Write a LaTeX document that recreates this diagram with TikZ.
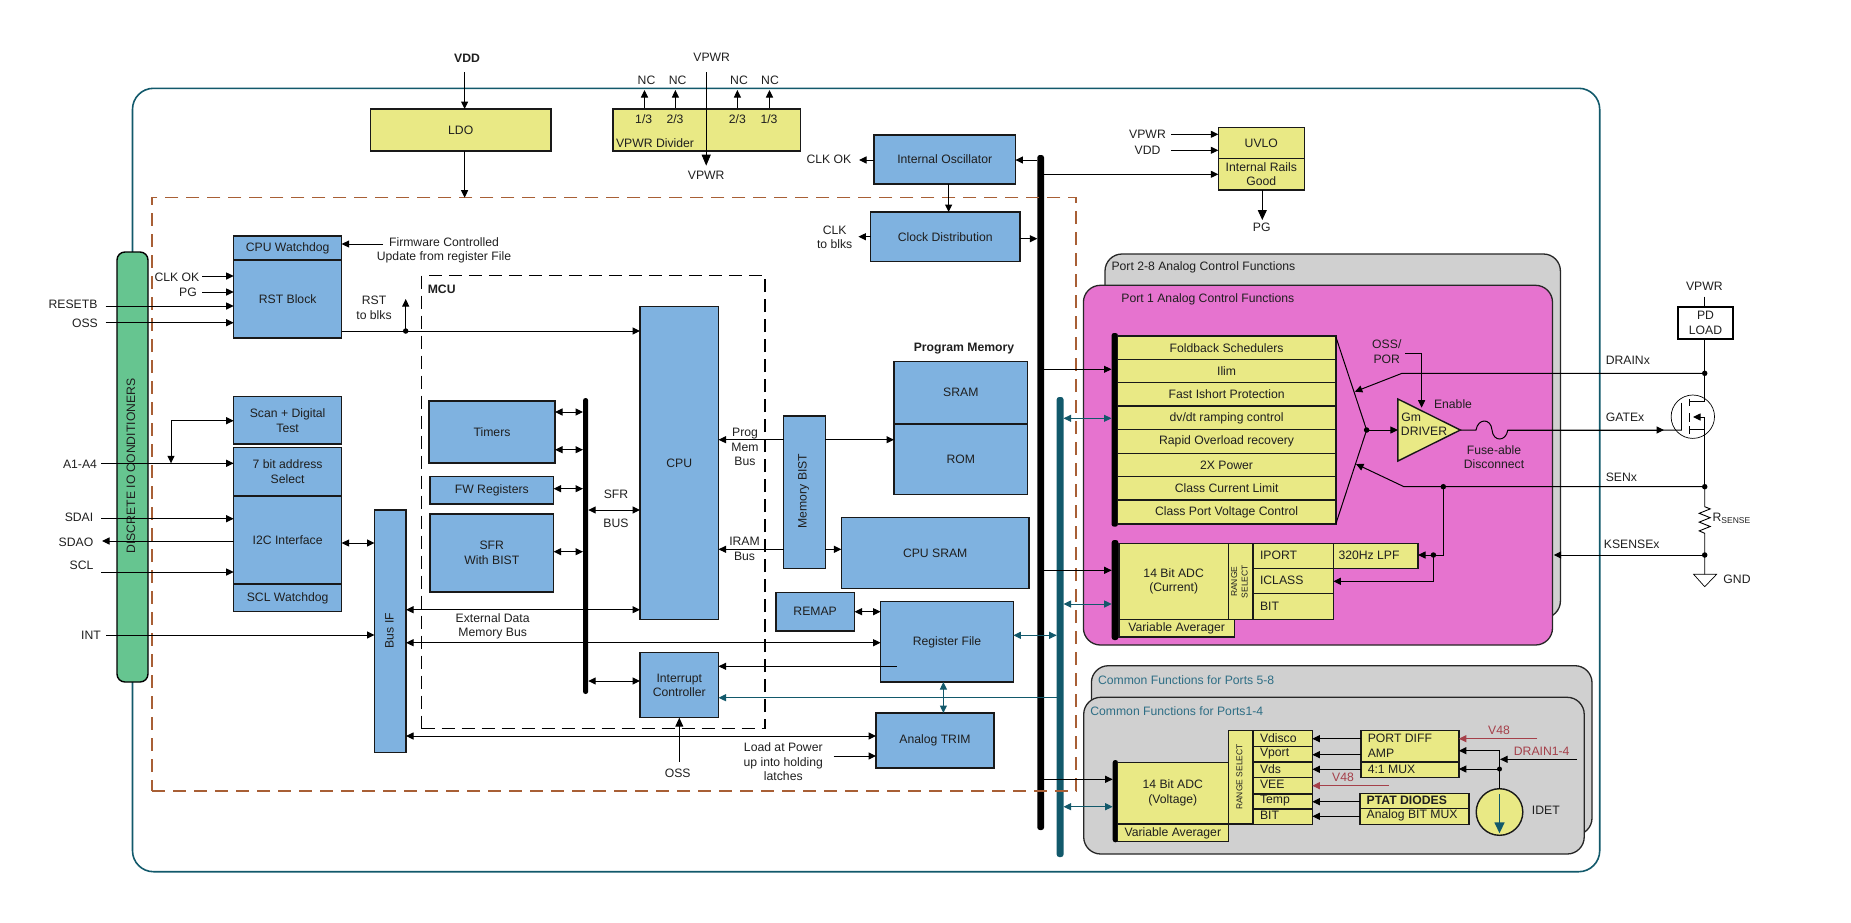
\documentclass[tikz,border=0pt]{standalone}
\usepackage{fontspec}
\setmainfont{Liberation Sans}
\usetikzlibrary{arrows.meta,decorations.pathmorphing}
\definecolor{cyel}{HTML}{E9E985}
\definecolor{cblu}{HTML}{7FB2E0}
\definecolor{cgrn}{HTML}{66C590}
\definecolor{cpnk}{HTML}{E673CF}
\definecolor{cgry}{HTML}{D0D0D0}
\definecolor{cteal}{HTML}{12596B}
\definecolor{ctxt}{HTML}{2E6E85}
\definecolor{cbrn}{HTML}{A85F35}
\definecolor{cred}{HTML}{A5404A}
\tikzset{
  x=1pt,y=-1pt,
  every node/.style={font=\fontsize{12.2}{14.7}\selectfont,inner sep=0pt,outer sep=0pt,align=center,text=black!88},
  box/.style={draw=black!90,line width=1.4pt},
  blu/.style={box,fill=cblu},
  yel/.style={box,fill=cyel},
  panel/.style={draw=black!85,line width=1.3pt,rounded corners=17pt},
  barblk/.style={fill=black,rounded corners=2.5pt},
  barteal/.style={fill=cteal,rounded corners=2.5pt},
  lnk/.style={draw=black,line width=1pt},
  arr/.style={lnk,-{Triangle[length=7.5pt,width=7pt]}},
  darr/.style={lnk,{Triangle[length=7.5pt,width=7pt]}-{Triangle[length=7.5pt,width=7pt]}},
  tarr/.style={draw=cteal,line width=1pt,-{Triangle[length=7.5pt,width=7pt]}},
  tdarr/.style={draw=cteal,line width=1pt,{Triangle[length=7.5pt,width=7pt]}-{Triangle[length=7.5pt,width=7pt]}},
  rarr/.style={draw=cred,line width=1pt,-{Triangle[length=7.5pt,width=7pt]}},
  dot/.style={circle,fill=black,minimum size=5.5pt},
  small/.style={font=\fontsize{8.5}{10.4}\selectfont},
  tag/.style={text=ctxt},
  redtag/.style={text=cred},
  bold/.style={font=\fontsize{12.2}{14.7}\bfseries\selectfont},
}
% name, style, x1, y1, x2, y2, text
\newcommand{\mybox}[7]{\node[#2,minimum width={(#5-#3)*1pt},minimum height={(#6-#4)*1pt}] (#1) at ({(#3+#5)/2},{(#4+#6)/2}) {#7};}
\newcommand{\lab}[4][]{\node[#1] (#2) at (#3) {#4};}
\begin{document}
\begin{tikzpicture}
\useasboundingbox (0,0) rectangle (1851,922);
% outer frame
\mybox{outer}{draw=cteal,line width=1.6pt,rounded corners=21pt}{132.5}{88.3}{1599.7}{871.7}{}
% analog panels
\mybox{p28}{panel,fill=cgry}{1105}{254}{1560.4}{618}{}
\mybox{p1}{panel,fill=cpnk}{1083.4}{285.3}{1552.5}{645}{}
\mybox{c58}{panel,fill=cgry}{1091.4}{665.7}{1592}{835}{}
\mybox{c14}{panel,fill=cgry}{1083.7}{697.3}{1584.2}{854}{}
\lab[anchor=west]{tp28}{1111.5,267.7}{Port 2-8 Analog Control Functions}
\lab[anchor=west]{tp1}{1121.4,299}{Port 1 Analog Control Functions}
\lab[anchor=west,tag]{tc58}{1098,679.7}{Common Functions for Ports 5-8}
\lab[anchor=west,tag]{tc14}{1090.3,711}{Common Functions for Ports1-4}
% green bar
\mybox{io}{draw=black,line width=1.4pt,fill=cgrn,rounded corners=8pt}{117}{252}{148}{682}{}
\lab[rotate=90]{tio}{131,466}{DISCRETE IO CONDITIONERS}
% buses
\mybox{busa}{barblk}{1037.3}{155}{1044}{830}{}
\mybox{bust}{barteal}{1056.7}{397}{1063.5}{857}{}
\mybox{sfrbus}{barblk}{583}{398}{588.2}{694}{}
\mybox{listbar}{barblk}{1111.5}{333}{1118}{526.7}{}
\mybox{adcibar}{barblk}{1111.7}{540}{1118.4}{640}{}
\mybox{adcvbar}{barblk}{1112.7}{760}{1118}{842.3}{}
% dashed regions
\mybox{digi}{draw=cbrn,line width=1.3pt,dash pattern=on 13pt off 8pt}{152}{197.7}{1076}{791}{}
\mybox{mcu}{draw=black,line width=1.3pt,dash pattern=on 13pt off 7pt}{421.5}{275.7}{765}{728.7}{}
\lab[bold]{tmcu}{441.7,289}{MCU}
% top
\mybox{ldo}{yel}{370.5}{109}{551}{151}{LDO}
\lab[bold]{tvdd}{467,58}{VDD}
\mybox{div}{yel}{613}{109}{800.7}{151}{}
\lab{tdiv}{655,142.7}{VPWR Divider}
\lab{d1}{643.7,119}{1/3}
\lab{d2}{675,119}{2/3}
\lab{d3}{737.4,119}{2/3}
\lab{d4}{769,119}{1/3}
\lab{nc1}{646.5,80.3}{NC}
\lab{nc2}{677.7,80.3}{NC}
\lab{nc3}{739,80.3}{NC}
\lab{nc4}{770,80.3}{NC}
\lab{tvp1}{711.7,57.7}{VPWR}
\lab{tvp2}{706.2,175.7}{VPWR}
\mybox{osc}{blu}{874}{135}{1015.4}{184}{Internal Oscillator}
\mybox{clk}{blu}{870.7}{212}{1019.8}{261.3}{Clock Distribution}
\lab{tclkok}{829,159.7}{CLK OK}
\lab{tclk}{834.7,237.3}{CLK\\to blks}
\mybox{uvlo}{yel}{1218.3}{127.3}{1304.3}{158.3}{UVLO}
\mybox{rails}{yel}{1218.3}{158.3}{1304.3}{190}{Internal Rails\\Good}
\lab{tuv1}{1147.5,134}{VPWR}
\lab{tuv2}{1147.5,150}{VDD}
\lab{tpg2}{1261.7,227.3}{PG}
% left column
\mybox{wd}{blu}{233.7}{236}{341.6}{260}{CPU Watchdog}
\mybox{rst}{blu}{233.7}{260}{341.6}{338}{RST Block}
\lab{tfw}{444,250.3}{Firmware Controlled\\Update from register File}
\lab{tclkok2}{177,277}{CLK OK}
\lab{tpg}{188,292}{PG}
\lab{trsb}{73,304}{RESETB}
\lab{toss}{85,323}{OSS}
\lab{trstb}{374,307.8}{RST\\to blks}
\mybox{scan}{blu}{233.7}{396.7}{341.6}{444}{Scan + Digital\\Test}
\mybox{addr}{blu}{233.7}{447.7}{341.6}{496}{7 bit address\\Select}
\mybox{i2c}{blu}{233.7}{496}{341.6}{584}{I2C Interface}
\mybox{sclw}{blu}{233.7}{584}{341.6}{611.7}{SCL Watchdog}
\lab{ta}{80,464}{A1-A4}
\lab{tsdai}{79,517}{SDAI}
\lab{tsdao}{76,542}{SDAO}
\lab{tscl}{81.5,565.7}{SCL}
\lab{tint}{91,635.7}{INT}
\mybox{busif}{blu}{374.5}{510}{406}{752.7}{}
\lab[rotate=90]{tbusif}{389.5,630.7}{Bus IF}
% MCU
\mybox{timers}{blu}{429}{401}{555}{463}{Timers}
\mybox{fw}{blu}{430}{476.7}{553.6}{504}{FW Registers}
\mybox{sfr}{blu}{430}{514}{553.6}{592}{SFR\\With BIST}
\mybox{cpu}{blu}{640}{306.7}{718.5}{619.7}{CPU}
\mybox{irq}{blu}{640}{652.7}{718.5}{717.7}{Interrupt\\Controller}
\lab{tsfr1}{616,494.7}{SFR}
\lab{tsfr2}{616,523}{BUS}
\lab{text}{492.7,626.3}{External Data\\Memory Bus}
\lab{tprog}{745,447}{Prog\\Mem\\Bus}
\lab{tiram}{744.5,548.5}{IRAM\\Bus}
\lab{toss2}{677.7,773}{OSS}
\lab{tload}{783.3,761.7}{Load at Power\\up into holding\\latches}
% memory
\lab[bold]{tpm}{964,349}{Program Memory}
\mybox{sram}{blu}{894}{361.3}{1027.7}{424}{SRAM}
\mybox{rom}{blu}{894}{424}{1027.7}{494.3}{ROM}
\mybox{bist}{blu}{783.7}{416}{825.2}{568.7}{}
\lab[rotate=90]{tbist}{803.5,491}{Memory BIST}
\mybox{csram}{blu}{841.4}{517.7}{1029}{588.3}{CPU SRAM}
\mybox{remap}{blu}{775.8}{592.3}{854.5}{631}{REMAP}
\mybox{reg}{blu}{880.6}{601.7}{1013.4}{682}{Register File}
\mybox{trim}{blu}{876}{713}{994}{768}{Analog TRIM}
% port list
\mybox{r1}{yel}{1117.4}{336}{1335.8}{359.3}{Foldback Schedulers}
\mybox{r2}{yel}{1117.4}{359.3}{1335.8}{382.7}{Ilim}
\mybox{r3}{yel}{1117.4}{382.7}{1335.8}{406}{Fast Ishort Protection}
\mybox{r4}{yel}{1117.4}{406}{1335.8}{429.7}{dv/dt ramping control}
\mybox{r5}{yel}{1117.4}{429.7}{1335.8}{453.3}{Rapid Overload recovery}
\mybox{r6}{yel}{1117.4}{453.3}{1335.8}{476.7}{2X Power}
\mybox{r7}{yel}{1117.4}{476.7}{1335.8}{500}{Class Current Limit}
\mybox{r8}{yel}{1117.4}{500}{1335.8}{524}{Class Port Voltage Control}
% current ADC
\mybox{adci}{yel}{1119}{543.3}{1228.3}{619.3}{14 Bit ADC\\(Current)}
\mybox{vai}{yel}{1119}{619.3}{1234.3}{637}{Variable Averager}
\mybox{rsi}{yel}{1228.3}{543.3}{1252.7}{619.3}{}
\lab[rotate=90,small]{trsi}{1239.5,581.7}{RANGE\\SELECT}
\mybox{iport}{yel}{1253.3}{543.3}{1333.3}{568.3}{}
\mybox{iclass}{yel}{1253.3}{568.3}{1333.3}{593.3}{}
\mybox{ibit}{yel}{1253.3}{593.3}{1333.3}{619.3}{}
\mybox{lpf}{yel}{1333.3}{543.3}{1418}{568.3}{}
\lab[anchor=west]{tiport}{1260,555.3}{IPORT}
\lab[anchor=west]{ticlass}{1260,580.7}{ICLASS}
\lab[anchor=west]{tibit}{1260,606}{BIT}
\lab[anchor=west]{tlpf}{1338.5,555.3}{320Hz LPF}
% driver
\coordinate (gm1) at (1397.9,399);
\coordinate (gm2) at (1397.9,461);
\coordinate (gm3) at (1460.3,430);
\coordinate (tr1) at (1335.8,336.7);
\coordinate (tr3) at (1335.8,524);
\node[dot] (tr2) at (1366.6,430) {};
\draw[box,fill=cyel,line join=miter] (gm1) -- (gm3) -- (gm2) -- cycle;
\lab[anchor=west]{tgm}{1401.4,417}{Gm}
\lab{tdrv}{1424,431.7}{DRIVER}
\lab{tosp}{1386.8,351.3}{OSS/\\POR}
\lab{ten}{1453,404}{Enable}
\lab{tfuse}{1494,457}{Fuse-able\\Disconnect}
\lab[anchor=west]{tdrain}{1605.8,360.7}{DRAINx}
\lab[anchor=west]{tgate}{1605.8,417}{GATEx}
\lab[anchor=west]{tsen}{1605.8,477.7}{SENx}
\lab[anchor=west]{tks}{1603.9,544.7}{KSENSEx}
% voltage ADC
\mybox{adcv}{yel}{1117.3}{762.3}{1228.3}{824}{14 Bit ADC\\(Voltage)}
\mybox{vav}{yel}{1117.3}{824}{1228.3}{841.7}{Variable Averager}
\mybox{rsv}{yel}{1228.3}{730.7}{1253}{824}{}
\lab[rotate=90,small]{trsv}{1239.4,777}{RANGE SELECT}
\mybox{v1}{yel}{1253}{730.7}{1312.3}{746.7}{}
\mybox{v2}{yel}{1253}{746.7}{1312.3}{762}{}
\mybox{v3}{yel}{1253}{762}{1312.3}{777.7}{}
\mybox{v4}{yel}{1253}{777.7}{1312.3}{794}{}
\mybox{v5}{yel}{1253}{794}{1312.3}{809}{}
\mybox{v6}{yel}{1253}{809}{1312.3}{824.3}{}
\lab[anchor=west]{tv1}{1260,738}{Vdisco}
\lab[anchor=west]{tv2}{1260,753.7}{Vport}
\lab[anchor=west]{tv3}{1260,769.3}{Vds}
\lab[anchor=west]{tv4}{1260,784.7}{VEE}
\lab[anchor=west]{tv5}{1260,800.3}{Temp}
\lab[anchor=west]{tv6}{1260,815.7}{BIT}
\mybox{amp}{yel}{1361}{730.7}{1458.8}{762}{}
\mybox{mux}{yel}{1361}{762}{1458.8}{777.3}{}
\lab[anchor=west]{tamp1}{1367.8,738.3}{PORT DIFF}
\lab[anchor=west]{tamp2}{1367.8,753}{AMP}
\lab[anchor=west]{tmux}{1367.8,769.3}{4:1 MUX}
\mybox{ptat}{yel}{1360}{793.3}{1468.8}{808.7}{}
\mybox{bmux}{yel}{1360}{808.7}{1468.8}{824.7}{}
\lab[anchor=west,bold]{tptat}{1366.7,800.3}{PTAT DIODES}
\lab[anchor=west]{tbmux}{1366.7,815.7}{Analog BIT MUX}
\node[box,circle,fill=cyel,minimum size=46.6pt] (idet) at (1499.5,812) {};
\lab{tidet}{1545.8,810.3}{IDET}
\lab[redtag]{tv48a}{1499,730.3}{V48}
\lab[redtag]{tv48b}{1343,777}{V48}
\lab[redtag]{tdr14}{1541.7,751.7}{DRAIN1-4}
% external FET
\mybox{pd}{draw=black,line width=1.7pt}{1677.8}{306.7}{1733.2}{338.7}{PD\\LOAD}
\lab{tvp3}{1704.3,286.7}{VPWR}
\lab[anchor=west]{trs}{1712.6,518.3}{R\raisebox{-1.6pt}{\fontsize{8.5}{10}\selectfont SENSE}}
\lab{tgnd}{1737,579}{GND}
\node[circle,draw=black,line width=.7pt,minimum size=43.4pt] (fet) at (1692.8,416.7) {};
% --- connectors ---
\coordinate (vdds) at (464.6,72);
\draw[arr] (vdds) -- (vdds |- ldo.north);
\coordinate (ldob) at (464.6,151);
\draw[arr] (ldob) -- (ldob |- digi.north);
\coordinate (vps) at (706.2,72);
\coordinate (vpe) at (706.2,165.7);
\draw[arr,-{Triangle[length=11pt,width=9pt]}] (vps) -- (vpe);
\foreach \x/\n in {644.5/a,675.4/b,737.4/c,769.5/d}{
  \coordinate (nc\n s) at (\x,107.7);
  \coordinate (nc\n e) at (\x,90);
  \draw[arr] (nc\n s) -- (nc\n e);
}
\coordinate (cke) at (859,160);
\draw[arr] (osc.west |- cke) -- (cke);
\draw[arr] (busa.west |- cke) -- (osc.east |- cke);
\coordinate (oc) at (948.6,184);
\draw[arr] (oc) -- (oc |- clk.north);
\coordinate (cl) at (858.4,236.7);
\draw[arr] (clk.west |- cl) -- (cl);
\coordinate (crr) at (1020,238.7);
\draw[arr] (clk.east |- crr) -- (busa.west |- crr);
\coordinate (uv1) at (1171,134.3);
\coordinate (uv2) at (1171,150.3);
\coordinate (uv3) at (1044,174.3);
\draw[arr] (uv1) -- (uvlo.west |- uv1);
\draw[arr] (uv2) -- (uvlo.west |- uv2);
\draw[arr] (uv3) -- (rails.west |- uv3);
\coordinate (pge) at (1262.3,220);
\draw[arr,-{Triangle[length=10pt,width=9pt]}] (pge |- rails.south) -- (pge);
% left side
\coordinate (fws) at (383,244);
\draw[arr] (fws) -- (wd.east |- fws);
\coordinate (c1) at (202,276);
\coordinate (c2) at (202,292);
\coordinate (c3) at (105.6,306);
\coordinate (c4) at (105.6,322.7);
\foreach \c in {c1,c2,c3,c4}{\draw[arr] (\c) -- (rst.west |- \c);}
\coordinate (rl) at (405.7,331);
\node[dot] (rd) at (rl) {};
\coordinate (rup) at (405.7,299);
\draw[arr] (rd.center) -- (rup);
\draw[arr] (rst.east |- rl) -- (cpu.west |- rl);
\coordinate (a1) at (101,463.3);
\draw[arr] (a1) -- (addr.west |- a1);
\coordinate (a2) at (171,420.7);
\draw[arr] (a2) -- (scan.west |- a2);
\coordinate (a3) at (171,463.3);
\draw[arr] (a2) -- (a3);
\coordinate (s1) at (101,518.7);
\coordinate (s2) at (102,541);
\coordinate (s3) at (101,572);
\draw[arr] (s1) -- (i2c.west |- s1);
\draw[arr] (i2c.west |- s2) -- (s2);
\draw[arr] (s3) -- (i2c.west |- s3);
\coordinate (ii) at (106,635);
\draw[arr] (ii) -- (busif.west |- ii);
\coordinate (i2) at (360,543);
\draw[darr] (i2c.east |- i2) -- (busif.west |- i2);
% MCU
\coordinate (t1) at (560,412);
\coordinate (t2) at (560,449.7);
\draw[darr] (timers.east |- t1) -- (sfrbus.west |- t1);
\draw[darr] (timers.east |- t2) -- (sfrbus.west |- t2);
\coordinate (f1) at (560,488.7);
\draw[darr] (fw.east |- f1) -- (sfrbus.west |- f1);
\coordinate (f2) at (560,551.7);
\draw[darr] (sfr.east |- f2) -- (sfrbus.west |- f2);
\coordinate (b1) at (600,510);
\draw[darr] (sfrbus.east |- b1) -- (cpu.west |- b1);
\coordinate (b2) at (600,681);
\draw[darr] (sfrbus.east |- b2) -- (irq.west |- b2);
\coordinate (e1) at (500,609.7);
\draw[darr] (busif.east |- e1) -- (cpu.west |- e1);
\coordinate (e2) at (500,642.7);
\draw[darr] (busif.east |- e2) -- (reg.west |- e2);
\coordinate (e3) at (500,736);
\draw[darr] (busif.east |- e3) -- (trim.west |- e3);
\coordinate (os) at (679.3,761.7);
\draw[arr,-{Triangle[length=9pt,width=8pt]}] (os) -- (os |- irq.south);
\coordinate (lo) at (833.5,756);
\draw[arr] (lo) -- (trim.west |- lo);
% memory
\coordinate (pr) at (750,439.7);
\draw[arr] (bist.west |- pr) -- (cpu.east |- pr);
\draw[arr] (bist.east |- pr) -- (sram.west |- pr);
\coordinate (ir) at (750,549.3);
\draw[arr] (bist.west |- ir) -- (cpu.east |- ir);
\draw[arr] (bist.east |- ir) -- (csram.west |- ir);
\coordinate (rm) at (860,611.7);
\draw[darr] (remap.east |- rm) -- (reg.west |- rm);
\coordinate (ri) at (896.8,666.3);
\draw[arr] (ri) -- (irq.east |- ri);
\coordinate (tr) at (1030,635.3);
\draw[tdarr] (reg.east |- tr) -- (bust.west |- tr);
\coordinate (ti) at (900,697.7);
\draw[tarr] (bust.west |- ti) -- (irq.east |- ti);
\coordinate (tt) at (943.4,700);
\draw[tdarr] (tt |- reg.south) -- (tt |- trim.north);
% port connectors
\coordinate (k1) at (1080,369.3);
\draw[arr] (busa.east |- k1) -- (listbar.west |- k1);
\coordinate (k2) at (1080,418.3);
\draw[tdarr] (bust.east |- k2) -- (listbar.west |- k2);
\coordinate (k3) at (1080,570.3);
\draw[arr] (busa.east |- k3) -- (adcibar.west |- k3);
\coordinate (k4) at (1080,604);
\draw[tdarr] (bust.east |- k4) -- (adcibar.west |- k4);
\coordinate (k5) at (1080,779.3);
\draw[arr] (busa.east |- k5) -- (adcvbar.west |- k5);
\coordinate (k6) at (1080,806.7);
\draw[tdarr] (bust.east |- k6) -- (adcvbar.west |- k6);
\draw[lnk] (tr1) -- (tr2.center) -- (tr3);
\draw[arr] (tr2.center) -- (tr2 -| gm1);
\coordinate (op1) at (1405.4,353.3);
\coordinate (op2) at (1421.6,353.3);
\coordinate (op3) at (1421.6,407.7);
\draw[arr] (op1) -- (op2) -- (op3);
\coordinate (fa) at (1476,430);
\coordinate (fb) at (1507.8,430);
\coordinate (gatee) at (1664,430);
\coordinate (gbar) at (1681.8,430);
\draw[lnk] (gm3) -- (fa) .. controls (1478,418) and (1491,418) .. (1492,430) .. controls (1493,442) and (1506,442) .. (fb) -- (gbar);
\draw[arr] (fb) -- (gatee);
% drain, sense
\node[dot] (dd) at (1704.7,373.3) {};
\node[dot] (ds) at (1704.7,486.7) {};
\node[dot] (dk) at (1704.7,555) {};
\node[dot] (dm) at (1443.3,486.7) {};
\node[dot] (dl) at (1433.4,555) {};
\coordinate (dr1) at (1402,373.3);
\coordinate (dr2) at (1354.8,391.7);
\draw[arr] (dd.center) -- (dr1) -- (dr2);
\coordinate (se1) at (1404,486.7);
\coordinate (se2) at (1356,464);
\draw[arr] (ds.center) -- (se1) -- (se2);
\draw[arr] (dm.center) -- (dm |- dl) -- (lpf.east |- dl);
\coordinate (ic) at (1433.4,581.3);
\draw[arr] (dl.center) -- (ic) -- (iclass.east |- ic);
\coordinate (ke) at (1553.7,555);
\draw[arr] (dk.center) -- (ke);
% FET
\coordinate (vp3) at (1704.7,296.7);
\draw[lnk] (vp3) -- (vp3 |- pd.north);
\coordinate (dtop) at (1704.7,401.7);
\coordinate (dleft) at (1689.7,401.7);
\draw[lnk] (dd.center |- pd.south) -- (dtop) -- (dleft);
\coordinate (sl) at (1689.7,429.3);
\coordinate (sr) at (1704.7,429.3);
\draw[lnk] (sl) -- (sr);
\coordinate (bl) at (1693,417);
\coordinate (br) at (1704.7,417);
\draw[lnk] (br) -- (ds.center);
\draw[lnk,-{Triangle[length=7.5pt,width=7pt]}] (br) -- (bl);
\coordinate (ch1) at (1689.7,399);
\coordinate (ch2) at (1689.7,405.7);
\coordinate (ch3) at (1689.7,413);
\coordinate (ch4) at (1689.7,421.7);
\coordinate (ch5) at (1689.7,426);
\coordinate (ch6) at (1689.7,434);
\coordinate (gt) at (1681.8,402.7);
\draw[lnk] (ch1) -- (ch2) (ch3) -- (ch4) (ch5) -- (ch6) (gt) -- (gbar);
\coordinate (rt) at (1704.7,506.7);
\coordinate (rb) at (1704.7,533.3);
\coordinate (gndt) at (1704.7,574.3);
\draw[lnk,line width=.9pt] (ds.center) -- (rt) -- ++(5.5,2.2) -- ++(-11,4.4) -- ++(11,4.4) -- ++(-11,4.4) -- ++(11,4.4) -- ++(-11,4.4) -- (rb) -- (gndt);
\coordinate (gl) at (1693.6,574.3);
\coordinate (gr) at (1716.6,574.3);
\coordinate (gb) at (1704.7,586.7);
\draw[line width=.7pt] (gl) -- (gr) -- (gb) -- cycle;
% voltage side arrows
\foreach \y/\s/\d in {738.7/amp/v1,754.7/amp/v2,769.3/mux/v3,801.7/ptat/v5,816.3/bmux/v6}{
  \coordinate (yy) at (1340,\y);
  \draw[arr] (\s.west |- yy) -- (\d.east |- yy);
}
\coordinate (rv1) at (1388.5,785.7);
\draw[rarr] (rv1) -- (v4.east |- rv1);
\coordinate (rv2) at (1537.3,738.7);
\draw[rarr] (rv2) -- (amp.east |- rv2);
\node[dot,minimum size=5pt] (jd) at (1499.5,769) {};
\coordinate (jt) at (1499.5,750.7);
\coordinate (dr4) at (1577,759.3);
\coordinate (dr4e) at (1500,759.3);
\draw[arr] (dr4) -- (dr4e);
\draw[arr] (idet.north) -- (jt) -- (amp.east |- jt);
\draw[arr] (jd.center) -- (mux.east |- jd);
\coordinate (id1) at (1499.5,794.3);
\coordinate (id2) at (1499.5,833.3);
\draw[tarr,line width=1.6pt,-{Triangle[length=11pt,width=10pt]}] (id1) -- (id2);
\end{tikzpicture}
\end{document}
